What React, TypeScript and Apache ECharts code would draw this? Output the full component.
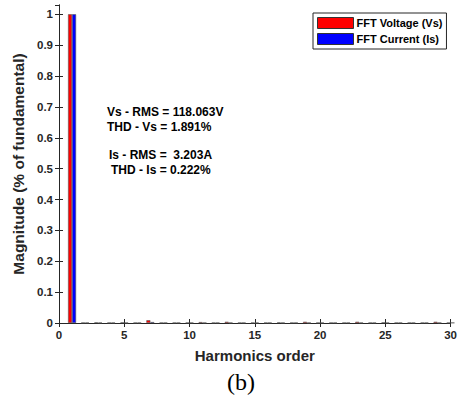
import React, { useEffect, useRef } from "react";
import * as echarts from "echarts";

const harmonics = [1, 2, 3, 4, 5, 6, 7, 8, 9, 10, 11, 12, 13, 14, 15, 16, 17, 18, 19, 20, 21, 22, 23, 24, 25, 26, 27, 28, 29, 30];
const voltageFFT = [1, 0.001, 0.002, 0.001, 0.002, 0.001, 0.009, 0.001, 0.001, 0.001, 0.003, 0.001, 0.004, 0.001, 0.001, 0.001, 0.002, 0.001, 0.004, 0.001, 0.001, 0.001, 0.004, 0.001, 0.002, 0.001, 0.001, 0.001, 0.004, 0.001];
const currentFFT = [1, 0.001, 0.001, 0.001, 0.001, 0.001, 0.003, 0.001, 0.001, 0.001, 0.001, 0.001, 0.001, 0.001, 0.001, 0.001, 0.001, 0.001, 0.001, 0.001, 0.001, 0.001, 0.001, 0.001, 0.001, 0.001, 0.001, 0.001, 0.001, 0.001];
const annotations = ["Vs - RMS = 118.063V", "THD - Vs = 1.891%", "Is - RMS =  3.203A", "THD - Is = 0.222%"];
const seriesNames = ["FFT Voltage (Vs)", "FFT Current (Is)"];

const SANS = "Arial, 'Liberation Sans', sans-serif";
const TXT = "#262626";

export default function App() {
  const ref = useRef<HTMLDivElement>(null);
  useEffect(() => {
    if (!ref.current) return;
    const chart = echarts.init(ref.current, undefined, { renderer: "svg" });
    const axisLine = { show: true, lineStyle: { color: TXT, width: 1 } };
    const labelStyle = { color: TXT, fontFamily: SANS, fontWeight: "bold" as const, fontSize: 11.5 };
    chart.setOption({
      animation: false,
      backgroundColor: "#fff",
      grid: { left: 59, right: 5, top: 5, bottom: 73, containLabel: false },
      legend: {
        orient: "vertical",
        left: 313,
        top: 13,
        data: seriesNames,
        itemWidth: 36,
        itemHeight: 11,
        itemGap: 4,
        padding: [4, 4, 4, 4],
        borderColor: TXT,
        borderWidth: 1,
        backgroundColor: "#fff",
        icon: "rect",
        itemStyle: { borderColor: "#333", borderWidth: 1 },
        textStyle: { color: "#000", fontFamily: SANS, fontWeight: "bold", fontSize: 11, padding: [0, 0, 0, -2] },
      },
      xAxis: [
        {
          type: "value",
          min: 0,
          max: 30,
          interval: 5,
          axisLine,
          axisTick: { show: true, inside: true, length: 4, lineStyle: { color: TXT } },
          axisLabel: { ...labelStyle, margin: 6 },
          splitLine: { show: false },
          name: "Harmonics order",
          nameLocation: "middle",
          nameGap: 25,
          nameTextStyle: { color: TXT, fontFamily: SANS, fontWeight: "bold", fontSize: 15 },
        },
        {
          type: "value",
          position: "top",
          min: 0,
          max: 30,
          interval: 5,
          axisLine,
          axisTick: { show: true, inside: true, length: 4, lineStyle: { color: TXT } },
          axisLabel: { show: false },
          splitLine: { show: false },
        },
      ],
      yAxis: [
        {
          type: "value",
          min: 0,
          max: 1.03,
          interval: 0.1,
          axisLine,
          axisTick: { show: true, inside: true, length: 4, lineStyle: { color: TXT } },
          axisLabel: { ...labelStyle, margin: 6, showMaxLabel: false, formatter: (v: number) => (Math.abs(v - 1) < 1e-9 ? "1" : Math.abs(v) < 1e-9 ? "0" : String(Math.round(v * 10) / 10)) },
          splitLine: { show: false },
          name: "Magnitude (% of fundamental)",
          nameLocation: "middle",
          nameGap: 27,
          nameTextStyle: { color: TXT, fontFamily: SANS, fontWeight: "bold", fontSize: 15.5 },
        },
        {
          type: "value",
          position: "right",
          min: 0,
          max: 1.03,
          interval: 0.1,
          axisLine,
          axisTick: { show: true, inside: true, length: 4, lineStyle: { color: TXT } },
          axisLabel: { show: false },
          splitLine: { show: false },
        },
      ],
      series: [
        {
          name: seriesNames[0],
          type: "bar",
          xAxisIndex: 0,
          yAxisIndex: 0,
          barWidth: 4,
          barGap: "0%",
          data: harmonics.map((h, i) => [h, voltageFFT[i]]),
          itemStyle: { color: "#ff0000", borderColor: "#555", borderWidth: 0.6 },
        },
        {
          name: seriesNames[1],
          type: "bar",
          xAxisIndex: 0,
          yAxisIndex: 0,
          barWidth: 4,
          barGap: "0%",
          data: harmonics.map((h, i) => [h, currentFFT[i]]),
          itemStyle: { color: "#0000ff", borderColor: "#555", borderWidth: 0.6 },
        },
      ],
      graphic: [
        { type: "text", left: 107, top: 106, style: { text: annotations[0], fill: "#000", font: `bold 12px ${SANS}` } },
        { type: "text", left: 107, top: 121, style: { text: annotations[1], fill: "#000", font: `bold 12px ${SANS}` } },
        { type: "text", left: 109, top: 149, style: { text: annotations[2], fill: "#000", font: `bold 12px ${SANS}` } },
        { type: "text", left: 111, top: 164, style: { text: annotations[3], fill: "#000", font: `bold 12px ${SANS}` } },
        { type: "text", left: 227, top: 370, style: { text: "(b)", fill: "#000", font: `24px 'Liberation Serif', 'Times New Roman', serif` } },
      ],
    });
    return () => chart.dispose();
  }, []);
  return <div ref={ref} style={{ position: "fixed", left: 0, top: 0, width: 460, height: 396 }} />;
}
